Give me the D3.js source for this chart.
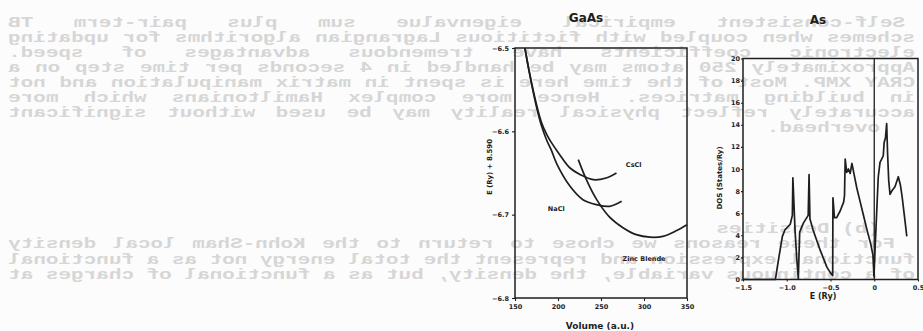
<!DOCTYPE html>
<html>
<head>
<meta charset="utf-8">
<script src="https://cdn.jsdelivr.net/npm/d3@7/dist/d3.min.js"></script>
<style>
  html, body { margin: 0; padding: 0; background: #fcfcfc; }
  svg { display: block; }
  .tick text { font-family: "DejaVu Sans", sans-serif; font-weight: bold; font-size: 6.5px; fill: #1e1e1e; }
  .tick line { stroke: #1e1e1e; stroke-width: 1.1; }
  .lbl { font-family: "DejaVu Sans", sans-serif; font-weight: bold; fill: #1e1e1e; }
</style>
</head>
<body>
<svg id="page" width="923" height="331"></svg>
<script>
// GaAs: total energy vs volume
const volumeTicks = [150, 200, 250, 300, 350];
const energyTicks = [-6.5, -6.6, -6.7, -6.8];
const csclVolume = [161.5, 166, 171, 176, 181, 187, 192, 202, 214, 226, 241, 256, 268];
const csclEnergy = [-6.500, -6.525, -6.550, -6.572, -6.590, -6.604, -6.613, -6.628, -6.644, -6.652, -6.658, -6.656, -6.650];
const naclVolume = [161.5, 166, 171, 176, 181, 187, 192, 199, 214, 229, 245, 260, 274];
const naclEnergy = [-6.500, -6.526, -6.552, -6.575, -6.594, -6.611, -6.622, -6.640, -6.666, -6.682, -6.688, -6.690, -6.684];
const zincVolume = [223.6, 233, 245, 260, 276, 291, 307, 322, 338, 350];
const zincEnergy = [-6.634, -6.658, -6.682, -6.703, -6.716, -6.724, -6.727, -6.726, -6.719, -6.712];

// As: density of states
const dosTicksE = [-1.5, -1.0, -0.5, 0, 0.5];
const dosTicksY = [0, 2, 4, 6, 8, 10, 12, 14, 16, 18, 20];
const dosEnergy = [-1.50, -1.13, -1.09, -1.05, -1.02, -0.96, -0.936, -0.930, -0.905, -0.884, -0.868,
  -0.852, -0.81, -0.755, -0.745, -0.735, -0.70, -0.66, -0.62, -0.58, -0.54, -0.50, -0.475,
  -0.472, -0.455, -0.43, -0.39, -0.35, -0.340, -0.332, -0.315, -0.295, -0.275, -0.255, -0.235,
  -0.20, -0.16, -0.12, -0.08, -0.04, -0.015, -0.003, 0.008, 0.03, 0.046, 0.066, 0.085, 0.103,
  0.113, 0.128, 0.142, 0.152, 0.165, 0.18, 0.20, 0.237, 0.275, 0.30, 0.32, 0.35, 0.372];
const dosValue = [0, 0, 2.0, 3.9, 4.5, 5.0, 5.8, 9.2, 4.4, 1.7, 0.1,
  4.3, 5.1, 5.8, 9.5, 5.5, 4.5, 3.6, 2.7, 1.9, 1.1, 0.6, 0.35,
  7.4, 5.6, 5.6, 6.2, 7.0, 7.6, 10.9, 9.7, 10.0, 9.6, 10.5, 9.7,
  8.3, 7.0, 5.7, 4.4, 3.2, 2.2, 0.3, 2.5, 6.5, 9.3, 10.6, 10.9, 11.2,
  12.4, 12.8, 14.1, 11.5, 9.0, 7.7, 8.0, 8.4, 9.3, 8.5, 7.4, 5.4, 3.9];

// text showing through from the back of the page (mirrored)
const backTextTop = [
  'Self-consistent empirical eigenvalue sum plus pair-term TB',
  'schemes when coupled with fictitious Lagrangian algorithms for updating',
  'electronic coefficients have tremendous advantages of speed.',
  'Approximately 250 atoms may be handled in 4 seconds per time step on a',
  'CRAY XMP. Most of the time here is spent in matrix manipulation and not',
  'in building matrices. Hence more complex Hamiltonians which more',
  'accurately reflect physical reality may be used without significant',
  'overhead.'
];
const backTextBottom = [
  '(b) Densities',
  'For these reasons we chose to return to the Kohn-Sham local density',
  'functional expression and represent the total energy not as a functional',
  'of a continuous variable, the density, but as a functional of charges at'
];

const ink = '#1e1e1e';
const svg = d3.select('#page');

/** back-page text */
const sx = 1.5, cw = 8.4;
const back = svg.append('g')
  .attr('transform', `translate(923,0) scale(${-sx},1)`)
  .style('font-family', '"Liberation Mono", monospace')
  .style('font-size', '14px')
  .style('font-weight', 'bold')
  .attr('fill', '#d6d6d6');

function backLine(text, cy, right, left) {
  const words = text.split(' ');
  const x0 = (923 - right) / sx;
  let extra = 0;
  if (left != null && words.length > 1) {
    const w = (right - left) / sx;
    extra = (w - text.length * cw) / (words.length - 1);
  }
  const t = back.append('text').attr('y', cy + 5);
  let chars = 0;
  words.forEach((wd, i) => {
    t.append('tspan').attr('x', x0 + chars * cw + i * extra).text(wd);
    chars += wd.length + 1;
  });
}
backTextTop.forEach((s, i) => {
  const last = i === backTextTop.length - 1;
  backLine(s, 22 + i * 15, i === 0 ? 905 : (last ? 880 : 915), last ? null : 8);
});
backTextBottom.forEach((s, i) => {
  backLine(s, 228 + i * 15.5, i === 1 ? 895 : (i === 0 ? 880 : 915), i === 0 ? null : 8);
});

/** GaAs chart */
const gx = d3.scaleLinear().domain([150, 350]).range([515, 687]);
const gy = d3.scaleLinear().domain([-6.5, -6.8]).range([48, 298]);

svg.append('g')
  .attr('transform', 'translate(0,298)')
  .call(d3.axisBottom(gx).tickValues(volumeTicks).tickSize(3).tickPadding(3).tickFormat(d3.format('d')))
  .call(g => g.select('.domain').remove());
svg.append('g')
  .attr('transform', 'translate(515,0)')
  .call(d3.axisLeft(gy).tickValues(energyTicks).tickSize(3).tickPadding(3).tickFormat(d3.format('.1f')))
  .call(g => g.select('.domain').remove());

svg.append('rect')
  .attr('x', gx(150)).attr('y', gy(-6.5))
  .attr('width', gx(350) - gx(150)).attr('height', gy(-6.8) - gy(-6.5))
  .attr('fill', 'none').attr('stroke', ink).attr('stroke-width', 1.5);

const eLine = d3.line().curve(d3.curveCatmullRom.alpha(0.5));
[[csclVolume, csclEnergy], [naclVolume, naclEnergy], [zincVolume, zincEnergy]].forEach(([v, e]) => {
  svg.append('path')
    .attr('d', eLine(v.map((d, i) => [gx(d), gy(e[i])])))
    .attr('fill', 'none').attr('stroke', ink).attr('stroke-width', 1.7);
});

svg.append('text').attr('class', 'lbl').attr('x', gx(288)).attr('y', gy(-6.640) + 2.5)
  .attr('text-anchor', 'middle').style('font-size', '6.5px').text('CsCl');
svg.append('text').attr('class', 'lbl').attr('x', gx(198)).attr('y', gy(-6.693) + 2.5)
  .attr('text-anchor', 'middle').style('font-size', '6.5px').text('NaCl');
svg.append('text').attr('class', 'lbl').attr('x', gx(300)).attr('y', gy(-6.752) + 2.5)
  .attr('text-anchor', 'middle').style('font-size', '6.5px').text('Zinc Blende');

svg.append('text').attr('class', 'lbl').attr('x', 586).attr('y', 22)
  .attr('text-anchor', 'middle').style('font-size', '12px').text('GaAs');
svg.append('text').attr('class', 'lbl').attr('x', 600).attr('y', 329)
  .attr('text-anchor', 'middle').style('font-size', '9px').text('Volume (a.u.)');
svg.append('text').attr('class', 'lbl')
  .attr('transform', 'translate(492,167) rotate(-90)')
  .attr('text-anchor', 'middle').style('font-size', '7px').text('E (Ry) + 8.590');

/** As chart */
const ax = d3.scaleLinear().domain([-1.5, 0.5]).range([743, 918]);
const ay = d3.scaleLinear().domain([0, 20]).range([279.5, 58.5]);

svg.append('g')
  .attr('transform', 'translate(0,279.5)')
  .call(d3.axisBottom(ax).tickValues(dosTicksE).tickSize(2).tickPadding(4)
    .tickFormat(d => d === 0 ? '0' : d3.format('.1f')(d)))
  .call(g => g.select('.domain').remove());
svg.append('g')
  .attr('transform', 'translate(743,0)')
  .call(d3.axisLeft(ay).tickValues(dosTicksY).tickSize(2).tickPadding(1))
  .call(g => g.select('.domain').remove());

svg.append('rect')
  .attr('x', ax(-1.5)).attr('y', ay(20))
  .attr('width', ax(0.5) - ax(-1.5)).attr('height', ay(0) - ay(20))
  .attr('fill', 'none').attr('stroke', ink).attr('stroke-width', 1.5);
svg.append('line')
  .attr('x1', ax(0)).attr('x2', ax(0)).attr('y1', ay(0)).attr('y2', ay(20))
  .attr('stroke', ink).attr('stroke-width', 1.3);

svg.append('path')
  .attr('d', d3.line()(dosEnergy.map((d, i) => [ax(d), ay(dosValue[i])])))
  .attr('fill', 'none').attr('stroke', ink).attr('stroke-width', 1.7)
  .attr('stroke-linejoin', 'round');

svg.append('text').attr('class', 'lbl').attr('x', 818).attr('y', 24)
  .attr('text-anchor', 'middle').style('font-size', '12px').text('As');
svg.append('text').attr('class', 'lbl').attr('x', 823).attr('y', 299)
  .attr('text-anchor', 'middle').style('font-size', '8px').text('E (Ry)');
svg.append('text').attr('class', 'lbl')
  .attr('transform', 'translate(722,178) rotate(-90)')
  .attr('text-anchor', 'middle').style('font-size', '7px').text('DOS (States/Ry)');
</script>
</body>
</html>
